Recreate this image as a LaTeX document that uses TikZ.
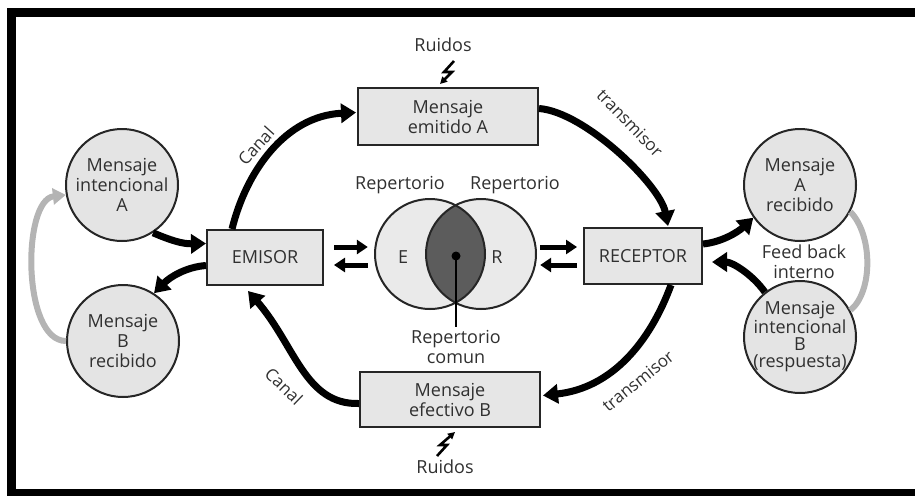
\documentclass[tikz,border=0pt]{standalone}
\usepackage{fontspec}
\setmainfont{Open Sans}
\usetikzlibrary{arrows.meta,calc}
\definecolor{txt}{HTML}{303030}
\definecolor{boxfill}{HTML}{E6E6E6}
\definecolor{circfill}{HTML}{E4E4E4}
\definecolor{vennfill}{HTML}{EAEAEA}
\definecolor{inter}{HTML}{5C5C5C}
\definecolor{fbgray}{HTML}{B4B4B4}
\begin{document}
\begin{tikzpicture}[x=1pt,y=-1pt,
  every node/.style={text=txt, font=\fontsize{18}{20}\selectfont, align=center},
  boxnode/.style={draw=black!85, line width=2pt, fill=boxfill, inner sep=0pt},
  msgcirc/.style={circle, draw=black!85, line width=2pt, fill=circfill, minimum size=112pt, inner sep=-18pt},
  venncirc/.style={circle, minimum size=110pt, inner sep=0pt},
  flow/.style={draw=black, line width=7pt, -{Triangle[length=15pt,width=19pt]}},
  pairarrow/.style={draw=black, line width=5pt, -{Triangle[length=11pt,width=14pt]}},
  fbline/.style={draw=fbgray, line width=6pt},
  bolt/.style={draw=black, line width=2.6pt, line join=miter, -{Triangle[length=7pt,width=7pt]}},
  lbl/.style={font=\fontsize{17}{19}\selectfont}
]
\useasboundingbox (0,0) rectangle (915,496);
% frame
\fill[black] (7,8) rectangle (915,17);
\fill[black] (7,8) rectangle (16,496);
\fill[black] (7,489) rectangle (915,496);

% boxes
\node[boxnode, minimum width=180pt, minimum height=57pt] (emA) at (448,116.5) {Mensaje\\emitido A};
\node[boxnode, minimum width=180pt, minimum height=55pt] (emB) at (450,399.5) {Mensaje\\efectivo B};
\node[boxnode, minimum width=116pt, minimum height=55pt] (emisor) at (265,257.5) {EMISOR};
\node[boxnode, minimum width=118pt, minimum height=56pt] (rec) at (643,256) {RECEPTOR};

% circles
\node[msgcirc] (miA) at (122,185) {Mensaje\\intencional\\A};
\node[msgcirc] (mrB) at (123,341) {Mensaje\\B\\recibido};
\node[msgcirc] (mrA) at (800,185) {Mensaje\\A\\recibido};
\node[msgcirc, font=\fontsize{18}{17}\selectfont] (miB) at (800,337) {Mensaje\\intencional\\B\\(respuesta)};

% venn
\node[venncirc, fill=vennfill] (vE) at (430,254) {};
\node[venncirc, fill=vennfill] (vR) at (481,254) {};
\begin{scope}
  \clip (430,254) circle[radius=55pt];
  \fill[inter] (481,254) circle[radius=55pt];
\end{scope}
\draw[black!85, line width=2pt] (430,254) circle[radius=55pt];
\draw[black!85, line width=2pt] (481,254) circle[radius=55pt];
\node (tE) at (403,257) {E};
\node (tR) at (497,257) {R};
\node (rep1) at (400,185) {Repertorio};
\node (rep2) at (515,185) {Repertorio};
\node[circle, fill=black, minimum size=9pt, inner sep=0pt] (dot) at (456,256) {};
\node (repc) at (456,347) {Repertorio\\comun};
\draw[black, line width=2pt] (dot.center) -- (repc.north);

% pair arrows
\draw[pairarrow] ($(emisor.east)+(10,-10.5)$) -- ($(vE.west)+(-7,-7)$);
\draw[pairarrow] ($(vE.west)+(-7,11)$) -- ($(emisor.east)+(10,7.5)$);
\draw[pairarrow] ($(vR.east)+(4,-7)$) -- ($(rec.west)+(-6,-9)$);
\draw[pairarrow] ($(rec.west)+(-6,9)$) -- ($(vR.east)+(4,11)$);

% main flow arrows
\draw[flow] ($(emisor.north)+(-33,0)$) .. controls (246,172) and (285,116) .. ($(emA.west)+(-1,-4)$);
\draw[flow] ($(emA.east)+(0,-8)$) .. controls (585,112) and (660,185) .. ($(rec.north)+(25,-1)$);
\draw[flow] ($(rec.south)+(28,0)$) .. controls (650,342) and (612,388) .. ($(emB.east)+(2,-4)$);
\draw[flow] ($(emB.west)+(0,4)$) .. controls (305,405) and (295,345) .. ($(emisor.south)+(-17,5)$);

\draw[flow] (miA.-57) .. controls (170,240) and (182,244) .. ($(emisor.west)+(0,-14)$);
\draw[flow] ($(emisor.west)+(0,8)$) .. controls (186,267) and (170,277) .. (mrB.57);
\draw[flow] ($(rec.east)+(0,-12)$) .. controls (722,242) and (738,232) .. (mrA.-145);
\draw[flow] (miB.128) .. controls (752,274) and (732,262) .. ($(rec.east)+(9,6)$);

% feedback gray
\draw[fbline, -{Triangle[length=13pt,width=16pt]}] (mrB.west) .. controls (22,341) and (22,200) .. (miA.190);
\draw[fbline] (mrA.-28) .. controls (873,235) and (873,292) .. (miB.28);
\node (fb) at (804,262) {Feed back\\interno};

% labels on arrows
\node[lbl, rotate=48] (lc1) at (256,146) {Canal};
\node[lbl, rotate=-46] (lt1) at (630,123) {transmisor};
\node[lbl, rotate=39] (lt2) at (638,381) {transmisor};
\node[lbl, rotate=-44] (lc2) at (284,386) {Canal};

% noise
\node (r1) at (443,45) {Ruidos};
\node (r2) at (445,467) {Ruidos};
\draw[bolt] (454,61) -- (444,72) -- (452,72) -- (440,84);
\draw[bolt] (437,456) -- (447,445) -- (440,445) -- (455,432);
\end{tikzpicture}
\end{document}
